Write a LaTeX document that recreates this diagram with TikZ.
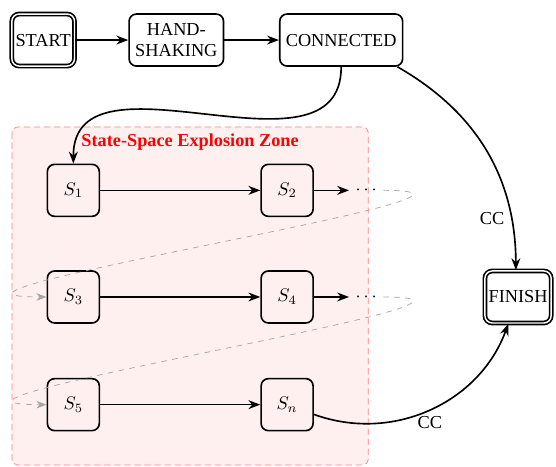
\documentclass[tikz,border=0pt]{standalone}
\usepackage[no-math]{fontspec}
\setmainfont{Liberation Serif}
\usetikzlibrary{arrows.meta}

\tikzset{
  state/.style={draw, line width=0.9pt, rounded corners, minimum height=1cm, align=center},
  endstate/.style={state, double, double distance=0.8pt, inner sep=2pt},
  sstate/.style={draw, line width=0.9pt, rounded corners, minimum size=1cm},
  flow/.style={-{Stealth[length=6.5pt]}, line width=0.9pt},
  jump/.style={-{Stealth[length=5.5pt]}, dashed, gray!70},
}

\begin{document}
\begin{tikzpicture}

  \useasboundingbox (0,0) rectangle (10.69,-8.96);

  % grid of the explored states
  \def\colone{1.41}
  \def\coltwo{5.52}
  \def\coldots{7.04}
  \def\rowone{-3.66}
  \def\rowtwo{-5.71}
  \def\rowthree{-7.78}

  % explosion zone (drawn first, stays behind)
  \draw[red!50, fill=red!6, dash pattern=on 3.5pt off 2pt, rounded corners=3pt] (0.23,-2.44) rectangle (7.08,-8.94);
  \node[red, font=\bfseries, below] (zonetitle) at (3.655,-2.44) {State-Space Explosion Zone};

  % protocol states
  \node[endstate] (start) at (0.83,-0.77) {START};
  \node[state] (hand) at (3.39,-0.77) {HAND-\\SHAKING};
  \node[state] (connected) at (6.56,-0.77) {CONNECTED};
  \node[endstate] (finish) at (9.96,-5.71) {FINISH};

  % states inside the zone
  \node[sstate] (s1) at (\colone,\rowone) {$S_1$};
  \node[sstate] (s2) at (\coltwo,\rowone) {$S_2$};
  \node (dots1) at (\coldots,\rowone) {$\cdots$};
  \node[sstate] (s3) at (\colone,\rowtwo) {$S_3$};
  \node[sstate] (s4) at (\coltwo,\rowtwo) {$S_4$};
  \node (dots2) at (\coldots,\rowtwo) {$\cdots$};
  \node[sstate] (s5) at (\colone,\rowthree) {$S_5$};
  \node[sstate] (sn) at (\coltwo,\rowthree) {$S_n$};

  % transitions
  \draw[flow] (start) -- (hand);
  \draw[flow] (hand) -- (connected);
  \draw[flow] (connected) to[out=-90, in=90, looseness=1.1] (s1);
  \draw[flow] (connected) to[bend left] node[pos=0.8, left] {CC} (finish);

  \draw[flow] (s1) -- (s2);
  \draw[flow] (s2) -- (dots1);
  \draw[flow] (s3) -- (s4);
  \draw[flow] (s4) -- (dots2);
  \draw[flow] (s5) -- (sn);
  \draw[flow] (sn) to[bend right=45] node[midway, below] {CC} (finish);

  % wrap around to the next row
  \draw[jump] (dots1) to[out=0, in=180, looseness=1.3] (s3);
  \draw[jump] (dots2) to[out=0, in=180, looseness=1.3] (s5);

\end{tikzpicture}
\end{document}
